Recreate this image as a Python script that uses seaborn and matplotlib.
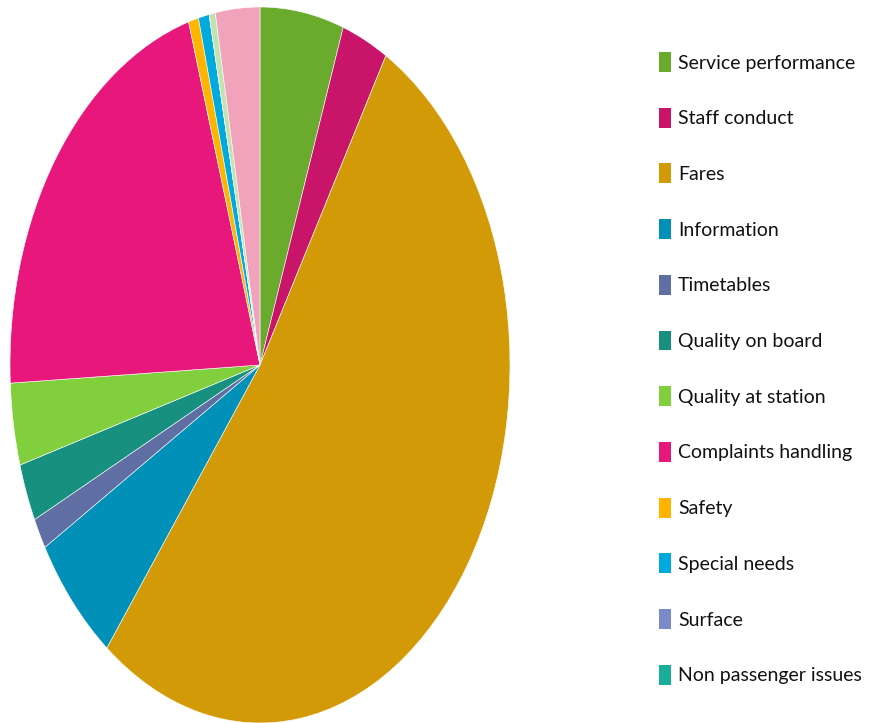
import matplotlib
matplotlib.use("Agg")
import matplotlib.pyplot as plt
import seaborn as sns
from matplotlib.patches import Patch

categories = ["Service performance", "Staff conduct", "Fares", "Information",
              "Timetables", "Quality on board", "Quality at station",
              "Complaints handling", "Safety", "Special needs", "Surface",
              "Non passenger issues", "Other (a)", "Other (b)"]
values = [5.4, 3.0, 52.1, 6.0, 1.4, 2.6, 3.7, 21.2, 0.65, 0.7, 0.0, 0.0, 0.4, 2.86]
colors = ["#6AAB2E", "#C8156A", "#D39A07", "#0090B8", "#5F6FA3", "#17907F",
          "#82CF3E", "#E8177C", "#FFB400", "#00AADD", "#7B8AC8", "#1AAE9A",
          "#C2E2B0", "#F0A3BA"]
legend_count = 12

sns.set_theme(style="white")
plt.rcParams["font.family"] = ["Lato", "DejaVu Sans"]

W, H = 870, 723
fig = plt.figure(figsize=(W / 100, H / 100), dpi=100)
ax = fig.add_axes([10 / W, 0 / H, 500 / W, 716 / H])
ax.pie(values, colors=colors, startangle=90, counterclock=False, radius=1,
       wedgeprops=dict(linewidth=0.4, edgecolor="white"))
ax.set_aspect("auto")
ax.set_xlim(-1, 1)
ax.set_ylim(-1, 1)
ax.axis("off")

handles = [Patch(facecolor=c, edgecolor="none") for c in colors[:legend_count]]
fig.legend(handles, categories[:legend_count], loc="upper left",
           bbox_to_anchor=(659 / W, 1 - 52 / H), frameon=False,
           fontsize=14, handlelength=0.62, handleheight=1.2,
           handletextpad=0.36, labelspacing=1.84, borderaxespad=0,
           borderpad=0, labelcolor="#111111")

fig.savefig("out.png", dpi=100, facecolor="white")
